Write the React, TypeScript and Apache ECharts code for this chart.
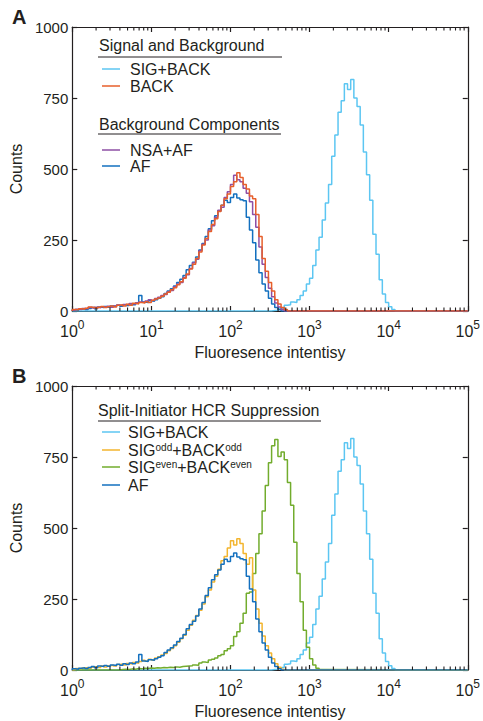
import React, { useEffect, useRef } from 'react';
import * as echarts from 'echarts';

// Histogram binning (log10 units) and axis range
const BIN_WIDTH_LOG = 0.04;
const X_MIN = 1;
const X_MAX = 100000;

// Series counts per bin; each series starts at the given bin index
const sigBackFirstBin = 63;
const sigBack = [2, 3, 8, 10, 20, 22, 32, 30, 40, 55, 70, 95, 115, 160, 215, 260, 320, 380, 445, 545, 620, 700, 740, 800, 780, 815, 750, 720, 655, 560, 480, 390, 270, 200, 110, 60, 30, 15, 5];

const backFirstBin = 0;
const back = [5, 4, 8, 6, 10, 14, 12, 10, 13, 16, 12, 15, 18, 14, 20, 22, 18, 24, 20, 27, 25, 30, 28, 33, 30, 38, 42, 46, 52, 60, 66, 75, 82, 92, 103, 115, 130, 148, 165, 185, 208, 232, 255, 280, 305, 325, 350, 372, 395, 412, 438, 455, 487, 470, 445, 430, 405, 395, 340, 262, 185, 140, 100, 70, 40, 25, 12, 5];

const nsaAfFirstBin = 0;
const nsaAf = [3, 6, 5, 9, 8, 12, 10, 13, 11, 15, 14, 17, 13, 18, 21, 19, 23, 22, 26, 24, 29, 32, 30, 35, 40, 37, 44, 48, 55, 58, 68, 72, 85, 95, 100, 118, 128, 150, 170, 182, 212, 235, 250, 285, 300, 330, 355, 365, 400, 420, 445, 478, 462, 455, 432, 415, 385, 340, 295, 225, 165, 118, 80, 50, 28, 14, 5];

const afFirstBin = 0;
const af = [4, 3, 6, 8, 5, 9, 12, 8, 14, 12, 16, 13, 18, 16, 20, 17, 22, 19, 25, 22, 28, 55, 32, 30, 36, 34, 40, 45, 50, 62, 70, 78, 88, 100, 112, 125, 145, 160, 172, 190, 215, 238, 262, 290, 318, 335, 352, 372, 390, 382, 400, 412, 398, 392, 388, 330, 285, 240, 180, 135, 95, 70, 45, 25, 12, 4];

const oddFirstBin = 0;
const odd = [2, 5, 4, 7, 9, 6, 10, 12, 9, 14, 11, 15, 17, 14, 19, 21, 18, 23, 21, 26, 24, 30, 34, 31, 38, 35, 42, 47, 53, 58, 68, 76, 85, 98, 110, 122, 140, 158, 175, 192, 210, 232, 258, 282, 310, 330, 355, 385, 400, 430, 455, 440, 462, 445, 410, 372, 395, 282, 215, 165, 120, 85, 60, 40, 22, 10, 3];

const evenFirstBin = 15;
const even = [2, 3, 2, 4, 3, 5, 4, 6, 5, 7, 6, 8, 7, 9, 8, 10, 9, 11, 10, 12, 13, 14, 15, 18, 17, 25, 28, 26, 35, 38, 42, 50, 55, 68, 75, 85, 118, 135, 165, 200, 270, 275, 340, 410, 480, 560, 650, 730, 790, 812, 752, 768, 740, 660, 580, 450, 340, 240, 140, 80, 40, 18, 6, 2];

const yTicks = [0, 250, 500, 750, 1000];
const decades = [1, 10, 100, 1000, 10000];
const minorMultipliers = [2, 3, 4, 5, 6, 7, 8, 9];

const COLORS = {
  sigBack: '#5cc6f2',
  back: '#e75f2b',
  nsaAf: '#8e4fa5',
  af: '#1370bf',
  odd: '#f3b52e',
  even: '#72ac2d',
};

const FONT = '"Liberation Sans", Arial, Helvetica, sans-serif';
const INK = '#231f20';

function histPoints(first: number, counts: number[]): [number, number][] {
  const pts: [number, number][] = [[X_MIN, 0]];
  counts.forEach((c, i) => pts.push([Math.pow(10, (first + i) * BIN_WIDTH_LOG), c]));
  pts.push([Math.pow(10, (first + counts.length) * BIN_WIDTH_LOG), 0]);
  pts.push([X_MAX, 0]);
  return pts;
}

function line(name: string, first: number, counts: number[], color: string, gi: number) {
  return {
    type: 'line',
    name,
    step: 'end',
    xAxisIndex: gi * 2,
    yAxisIndex: gi * 2,
    data: histPoints(first, counts),
    showSymbol: false,
    symbol: 'none',
    lineStyle: { color, width: 1.5 },
    itemStyle: { color },
    clip: true,
  };
}

function xAxes(gi: number) {
  const common = {
    type: 'log',
    logBase: 10,
    min: X_MIN,
    max: X_MAX,
    gridIndex: gi,
    splitLine: { show: false },
    axisLine: { show: true, onZero: false, lineStyle: { color: INK, width: 1.2 } },
    axisTick: { show: true, inside: true, length: 5, lineStyle: { color: INK, width: 1.2 } },
  };
  return [
    {
      ...common,
      position: 'bottom',
      name: 'Fluoresence intentisy',
      nameLocation: 'middle',
      nameGap: 33,
      nameTextStyle: { fontFamily: FONT, fontSize: 16, color: INK },
      axisLabel: {
        show: true,
        margin: 8,
        showMinLabel: true,
        showMaxLabel: true,
        formatter: (v: number) => `{b|10}{s|${Math.round(Math.log10(v))}}`,
        rich: {
          b: { fontFamily: FONT, fontSize: 16, color: INK, verticalAlign: 'bottom', lineHeight: 20 },
          s: { fontFamily: FONT, fontSize: 12, color: INK, verticalAlign: 'top', lineHeight: 12 },
        },
      },
    },
    {
      ...common,
      position: 'top',
      axisLabel: { show: false },
    },
  ];
}

function yAxes(gi: number) {
  const common = {
    type: 'value',
    min: yTicks[0],
    max: yTicks[yTicks.length - 1],
    interval: yTicks[1] - yTicks[0],
    gridIndex: gi,
    splitLine: { show: false },
    axisLine: { show: true, onZero: false, lineStyle: { color: INK, width: 1.2 } },
    axisTick: { show: true, inside: true, length: 5, lineStyle: { color: INK, width: 1.2 } },
  };
  return [
    {
      ...common,
      position: 'left',
      name: 'Counts',
      nameLocation: 'middle',
      nameGap: 32,
      nameTextStyle: { fontFamily: FONT, fontSize: 16, color: INK },
      axisLabel: {
        show: true,
        margin: 4,
        fontFamily: FONT,
        fontSize: 15,
        color: INK,
        formatter: (v: number) => String(v),
      },
    },
    {
      ...common,
      position: 'right',
      axisLabel: { show: false },
    },
  ];
}

function txt(text: string, x: number, y: number, extra: any = {}) {
  return {
    type: 'text',
    x,
    y,
    silent: true,
    style: {
      text,
      fontFamily: FONT,
      fontSize: 16,
      fill: INK,
      verticalAlign: 'middle',
      align: 'left',
      ...extra,
    },
  };
}

function seg(x1: number, y1: number, x2: number, y2: number, color: string, w = 1.5) {
  return {
    type: 'line',
    silent: true,
    z: 100,
    shape: { x1, y1, x2, y2 },
    style: { stroke: color, lineWidth: w },
  };
}

const supRich = {
  n: { fontFamily: FONT, fontSize: 16, fill: INK, color: INK, verticalAlign: 'bottom' },
  sup: { fontFamily: FONT, fontSize: 10, fill: INK, color: INK, verticalAlign: 'top' },
};

export default function App() {
  const ref = useRef<HTMLDivElement>(null);
  useEffect(() => {
    if (!ref.current) return;
    const chart = echarts.init(ref.current, undefined, { renderer: 'svg' });
    const legend: any[] = [
      txt('A', 12, 17, { fontSize: 20, fontWeight: 'bold' }),
      txt('B', 12, 376, { fontSize: 20, fontWeight: 'bold' }),
      // Panel A legend
      txt('Signal and Background', 99, 45),
      seg(98, 57, 282, 57, INK, 1),
      seg(102, 69, 120, 69, COLORS.sigBack),
      txt('SIG+BACK', 130, 69),
      seg(102, 86, 120, 86, COLORS.back),
      txt('BACK', 130, 86),
      txt('Background Components', 99, 124),
      seg(98, 134, 281, 134, INK, 1),
      seg(102, 150, 120, 150, COLORS.nsaAf),
      txt('NSA+AF', 130, 150),
      seg(102, 166, 120, 166, COLORS.af),
      txt('AF', 130, 166),
      // Panel B legend
      txt('Split-Initiator HCR Suppression', 98, 410),
      seg(98, 421, 321, 421, INK, 1),
      seg(102, 432, 120, 432, COLORS.sigBack),
      txt('SIG+BACK', 128, 432),
      seg(102, 450, 120, 450, COLORS.odd),
      {
        type: 'text', x: 128, y: 450, silent: true,
        style: { text: '{n|SIG}{sup|odd}{n|+BACK}{sup|odd}', rich: supRich, verticalAlign: 'middle', fontFamily: FONT, fontSize: 16 },
      },
      seg(102, 467, 120, 467, COLORS.even),
      {
        type: 'text', x: 128, y: 467, silent: true,
        style: { text: '{n|SIG}{sup|even}{n|+BACK}{sup|even}', rich: supRich, verticalAlign: 'middle', fontFamily: FONT, fontSize: 16 },
      },
      seg(102, 485, 120, 485, COLORS.af),
      txt('AF', 128, 485),
    ];
    const series = [
      line('SIG+BACK', sigBackFirstBin, sigBack, COLORS.sigBack, 0),
      line('AF', afFirstBin, af, COLORS.af, 0),
      line('NSA+AF', nsaAfFirstBin, nsaAf, COLORS.nsaAf, 0),
      line('BACK', backFirstBin, back, COLORS.back, 0),
      line('SIG+BACK', sigBackFirstBin, sigBack, COLORS.sigBack, 1),
      line('SIGeven+BACKeven', evenFirstBin, even, COLORS.even, 1),
      line('SIGodd+BACKodd', oddFirstBin, odd, COLORS.odd, 1),
      line('AF', afFirstBin, af, COLORS.af, 1),
    ];
    chart.setOption({
      animation: false,
      backgroundColor: '#ffffff',
      textStyle: { fontFamily: FONT },
      grid: [
        { left: 70, width: 402, top: 27, height: 284, containLabel: false },
        { left: 70, width: 402, top: 386, height: 284, containLabel: false },
      ],
      xAxis: [...xAxes(0), ...xAxes(1)],
      yAxis: [...yAxes(0), ...yAxes(1)],
      series,
    });
    // Minor (log) ticks on bottom and top axes, placed through each panel's scale
    const panelSeriesIndex = [0, 4];
    const ticks: any[] = [];
    panelSeriesIndex.forEach((si) => {
      decades.forEach((d) =>
        minorMultipliers.forEach((m) => {
          const finder = { seriesIndex: si };
          const b = chart.convertToPixel(finder, [m * d, yTicks[0]]) as number[];
          const t = chart.convertToPixel(finder, [m * d, yTicks[yTicks.length - 1]]) as number[];
          if (!b || !t) return;
          ticks.push(seg(b[0], b[1], b[0], b[1] - 3.5, INK, 1.1));
          ticks.push(seg(t[0], t[1], t[0], t[1] + 3.5, INK, 1.1));
        })
      );
    });
    chart.setOption({ graphic: [...legend, ...ticks] });
    return () => chart.dispose();
  }, []);
  return (
    <div
      ref={ref}
      style={{ position: 'fixed', left: 0, top: 0, width: 483, height: 721, background: '#fff' }}
    />
  );
}
